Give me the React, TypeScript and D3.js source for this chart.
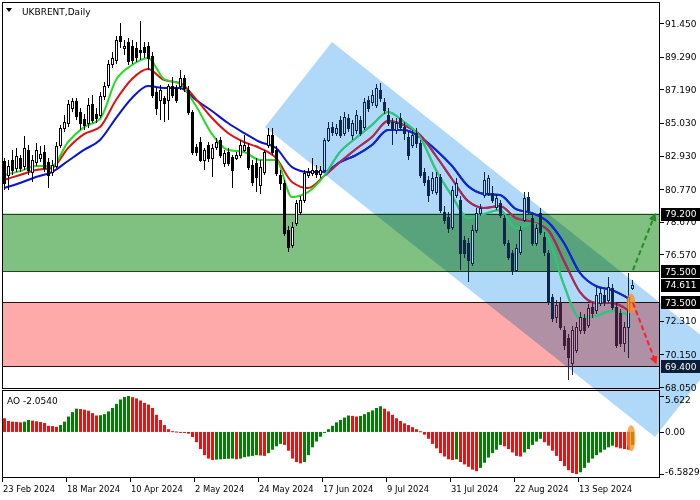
import React from "react";
import * as d3 from "d3";

const symbolTitle = "UKBRENT,Daily";
const aoTitle = "AO -2.0540";

const openP = [
  82.58, 81.68, 82.64, 82.13, 82.77, 82.26, 83.29, 81.87, 82.51, 82.77,
  83.16, 82.51, 81.87, 82.26, 83.61, 84.70, 85.02, 85.99, 86.44, 85.73,
  85.28, 85.02, 86.24, 85.60, 85.54, 86.76, 87.46, 88.81, 89.07, 90.62,
  89.84, 90.23, 89.97, 89.84, 89.72, 89.91, 89.97, 89.33, 87.01, 86.50,
  86.63, 86.50, 87.40, 87.27, 87.40, 87.91, 87.14, 85.73, 83.48, 83.80,
  82.64, 83.61, 82.77, 83.48, 83.93, 82.45, 83.16, 82.84, 82.77, 82.96,
  83.29, 83.48, 82.32, 82.45, 81.03, 81.87, 83.61, 84.25, 83.29, 81.68,
  81.16, 78.14, 77.18, 78.59, 79.30, 80.07, 81.68, 81.81, 82.00, 81.74,
  82.00, 83.93, 84.76, 84.38, 85.21, 84.38, 85.34, 84.25, 84.57, 85.21,
  84.76, 86.50, 86.37, 86.18, 87.14, 86.37, 85.54, 85.09, 84.57, 85.34,
  84.76, 84.12, 83.61, 84.38, 83.74, 81.87, 81.36, 80.71, 80.58, 81.55,
  79.30, 78.98, 78.33, 80.39, 80.07, 77.50, 77.31, 76.02, 78.14, 79.23,
  80.39, 80.52, 80.52, 79.62, 79.88, 78.91, 77.31, 76.66, 75.57, 76.73,
  78.78, 80.26, 78.91, 77.31, 79.23, 77.69, 76.66, 73.83, 72.55, 73.45,
  71.71, 71.20, 69.59, 70.43, 71.71, 72.48, 72.03, 73.19, 73.00, 73.45,
  73.96, 73.64, 74.41, 73.19, 72.80, 70.88, 71.90, 74.41,
];
const highP = [
  82.77, 82.64, 83.29, 83.41, 82.96, 84.18, 83.61, 82.96, 83.74, 83.54,
  83.61, 82.77, 82.64, 83.80, 84.89, 85.54, 86.50, 86.63, 86.63, 85.99,
  85.60, 86.63, 86.82, 85.99, 87.01, 87.66, 89.07, 89.59, 90.62, 91.45,
  90.36, 90.49, 90.36, 90.23, 91.58, 90.23, 90.23, 89.59, 87.27, 87.46,
  86.76, 87.53, 87.98, 87.46, 88.43, 88.11, 87.40, 85.86, 83.67, 84.12,
  83.41, 83.80, 83.67, 84.06, 84.12, 83.29, 83.41, 82.96, 83.16, 83.93,
  84.25, 83.74, 82.64, 82.77, 82.64, 83.29, 84.70, 84.70, 83.54, 82.00,
  81.36, 78.40, 78.66, 80.07, 80.33, 82.00, 82.13, 82.77, 82.32, 82.26,
  84.06, 85.09, 85.09, 84.96, 85.47, 85.73, 85.60, 85.21, 85.86, 85.47,
  86.63, 86.76, 87.14, 87.53, 87.59, 86.63, 85.99, 85.34, 85.34, 85.66,
  85.09, 84.44, 84.57, 84.70, 83.93, 82.13, 81.61, 81.87, 81.87, 81.74,
  79.69, 79.30, 80.97, 81.48, 80.33, 77.76, 77.63, 78.46, 79.56, 79.81,
  81.87, 81.68, 80.97, 80.46, 80.07, 79.11, 77.50, 76.86, 77.24, 78.40,
  80.58, 80.58, 79.17, 78.53, 79.56, 78.01, 76.86, 74.03, 73.64, 73.83,
  71.97, 71.45, 71.97, 72.23, 72.87, 72.74, 73.38, 73.51, 74.48, 74.41,
  74.28, 75.12, 74.67, 73.45, 73.06, 72.23, 75.38, 74.93,
];
const lowP = [
  80.71, 80.71, 81.68, 81.87, 81.87, 82.00, 81.68, 81.23, 82.26, 82.51,
  81.87, 80.84, 81.61, 82.13, 83.41, 84.44, 84.76, 85.73, 85.21, 84.57,
  84.57, 84.70, 85.02, 85.02, 85.34, 86.50, 87.27, 88.56, 88.81, 89.84,
  89.39, 88.75, 88.81, 88.94, 89.07, 89.20, 88.43, 86.63, 85.54, 85.21,
  85.09, 85.21, 86.63, 86.31, 87.14, 87.01, 85.54, 82.96, 82.90, 82.51,
  82.00, 82.51, 81.55, 83.29, 82.77, 82.19, 82.26, 80.84, 82.64, 82.77,
  83.16, 82.00, 80.97, 80.58, 80.46, 81.68, 83.41, 82.96, 81.61, 80.71,
  77.76, 76.73, 76.98, 78.40, 79.11, 79.88, 81.49, 81.61, 81.49, 81.49,
  81.87, 83.80, 84.18, 84.18, 84.06, 84.18, 84.44, 83.93, 84.31, 84.18,
  84.57, 85.73, 86.11, 85.99, 86.37, 85.60, 84.83, 83.61, 84.31, 84.57,
  83.93, 82.64, 83.41, 83.41, 81.49, 80.97, 79.94, 80.46, 80.39, 79.23,
  78.53, 77.95, 78.14, 80.20, 75.57, 76.34, 74.80, 75.83, 77.95, 79.04,
  80.20, 80.33, 79.88, 79.43, 78.91, 77.11, 76.21, 75.25, 75.44, 76.53,
  78.66, 79.17, 77.11, 77.11, 77.82, 76.47, 73.32, 72.23, 72.16, 71.71,
  70.43, 68.50, 68.82, 70.23, 71.45, 71.45, 71.84, 72.48, 72.74, 73.26,
  73.26, 73.45, 73.00, 70.56, 70.62, 70.30, 69.91, 74.28,
];
const closeP = [
  81.16, 82.26, 82.00, 82.90, 82.13, 83.41, 82.00, 82.64, 83.29, 83.03,
  82.13, 81.68, 82.32, 83.54, 84.70, 85.09, 86.24, 86.44, 85.47, 85.02,
  84.89, 86.18, 85.21, 85.34, 86.76, 87.40, 88.81, 89.20, 90.36, 90.29,
  89.97, 89.01, 89.07, 89.27, 89.59, 89.59, 89.20, 86.82, 85.99, 87.14,
  86.31, 87.40, 86.82, 86.50, 87.91, 87.27, 85.73, 83.16, 83.16, 82.64,
  83.29, 82.77, 83.41, 83.80, 82.96, 83.09, 82.45, 82.00, 82.96, 83.61,
  83.61, 82.19, 81.23, 81.55, 82.19, 83.16, 84.25, 83.16, 81.81, 81.16,
  77.95, 77.05, 78.33, 79.88, 80.07, 81.81, 81.87, 82.00, 81.74, 82.00,
  83.93, 84.70, 84.44, 84.70, 84.25, 85.41, 84.70, 85.02, 85.54, 84.38,
  86.37, 85.99, 86.82, 87.27, 86.63, 85.86, 85.02, 84.70, 85.02, 84.76,
  84.38, 82.96, 84.25, 83.74, 81.68, 81.23, 80.39, 81.49, 81.55, 79.43,
  78.78, 78.27, 80.71, 81.16, 76.66, 76.66, 76.21, 78.14, 79.23, 79.56,
  81.36, 81.49, 80.07, 80.20, 79.11, 77.31, 76.40, 75.57, 76.98, 78.14,
  80.20, 79.43, 77.31, 78.27, 78.01, 76.73, 73.51, 72.48, 73.32, 71.90,
  70.75, 70.01, 71.71, 71.90, 72.55, 71.71, 73.13, 72.80, 73.96, 74.09,
  73.51, 74.48, 73.19, 70.75, 70.88, 71.90, 73.83, 74.611,
];

const aoValues = [
  2.14, 1.71, 1.61, 1.58, 1.50, 1.61, 1.87, 1.77, 1.66, 1.55,
  1.39, 0.96, 0.91, 0.80, 1.07, 1.61, 2.41, 3.10, 3.64, 3.58,
  3.48, 3.32, 2.94, 2.57, 2.62, 2.78, 3.21, 3.75, 4.39, 5.08,
  5.46, 5.622, 5.45, 5.24, 4.92, 4.55, 4.28, 3.75, 2.68, 1.87,
  1.07, 0.43, 0.12, 0.06, -0.03, -0.08, -0.27, -0.80, -1.61, -2.68,
  -3.64, -4.17, -4.39, -4.33, -4.28, -4.23, -4.20, -4.17, -4.28, -4.17,
  -3.96, -3.85, -3.75, -3.64, -3.69, -3.75, -3.32, -2.78, -2.25, -1.87,
  -2.03, -2.94, -4.17, -4.71, -4.92, -4.71, -3.64, -2.41, -1.50, -0.75,
  -0.16, 0.43, 0.96, 1.50, 1.87, 2.25, 2.57, 2.51, 2.41, 2.51,
  2.78, 3.10, 3.37, 3.75, 4.01, 3.64, 3.21, 2.68, 2.14, 1.71,
  1.34, 1.07, 0.75, 0.43, 0.11, -0.43, -1.07, -1.87, -2.57, -3.32,
  -3.85, -4.28, -4.39, -4.28, -4.71, -5.08, -5.46, -5.89, -6.15, -5.62,
  -4.82, -4.01, -3.32, -2.78, -2.03, -2.25, -2.68, -3.21, -3.75, -3.85,
  -3.21, -2.68, -2.03, -1.50, -1.07, -1.61, -2.14, -2.94, -3.75, -4.55,
  -5.35, -5.99, -6.42, -6.5829, -6.31, -5.62, -4.82, -4.17, -3.64, -3.21,
  -2.78, -2.41, -2.14, -2.41, -2.57, -2.68, -2.78, -2.054,
];

// Alligator lines read every 4th bar
const maIndex = [
  0, 4, 8, 12, 16, 20, 24, 28, 32, 36, 40, 44, 48, 52, 56, 60, 64, 68, 72, 76,
  80, 84, 88, 92, 96, 100, 104, 108, 112, 116, 120, 124, 128, 132, 136, 140, 144, 148, 152, 156,
];
const jawLine = [
  80.84, 81.16, 81.55, 81.87, 82.58, 83.29, 83.93, 85.34, 86.63, 87.40,
  87.27, 87.27, 86.50, 85.79, 85.02, 84.38, 83.80, 83.41, 82.19, 81.87,
  81.87, 82.51, 82.96, 83.61, 84.57, 84.57, 84.12, 83.29, 82.26, 80.97,
  80.46, 80.39, 79.49, 79.23, 78.66, 77.31, 75.38, 74.54, 74.28, 73.77,
];
const teethLine = [
  81.36, 81.68, 82.00, 82.13, 83.41, 84.31, 84.76, 86.50, 87.85, 88.49,
  87.79, 87.59, 86.56, 85.34, 84.38, 83.80, 83.41, 82.77, 81.23, 80.84,
  81.61, 82.51, 83.35, 84.12, 85.15, 84.89, 84.25, 82.90, 81.42, 80.00,
  79.56, 79.69, 78.91, 78.66, 78.14, 76.15, 74.15, 73.45, 73.45, 73.00,
];
const lipsLine = [
  81.68, 81.93, 82.26, 82.26, 83.80, 84.76, 85.28, 87.79, 88.75, 89.20,
  87.85, 87.53, 86.11, 84.31, 83.29, 83.16, 82.64, 82.64, 80.26, 80.58,
  81.61, 83.16, 84.06, 84.89, 85.73, 85.09, 84.12, 82.00, 80.33, 78.91,
  79.17, 79.43, 78.27, 78.59, 77.63, 74.60, 72.48, 72.61, 72.93, 72.68,
];

const dateLabels = [
  "23 Feb 2024", "18 Mar 2024", "10 Apr 2024", "2 May 2024", "24 May 2024",
  "17 Jun 2024", "9 Jul 2024", "31 Jul 2024", "22 Aug 2024", "13 Sep 2024",
];
const dateIndex = [0, 16, 32, 48, 64, 80, 96, 112, 128, 144];

const priceTicks = [91.45, 89.29, 87.19, 85.03, 82.93, 80.77, 78.67, 76.57, 72.31, 70.15, 68.05];
const levelValues = [79.2, 75.5, 74.611, 73.5, 69.4];
const levelColors = ["#000000", "#000000", "#000000", "#000000", "#0b1d38"];
const greenZone = [75.5, 79.2];
const redZone = [69.4, 73.5];
const aoTicks = [5.622, 0, -6.5829];
const aoTickLabels = ["5.622", "0.00", "-6.5829"];

// price channel corners (bar index, price)
const channelIdx = [82, 65.25, 162.75, 179.5];
const channelPrice = [90.23, 84.77, 64.84, 70.3];
// forecast arrows (bar index, price)
const upArrowIdx = [157.25, 162.5];
const upArrowPrice = [75.57, 79.0];
const downArrowIdx = [157.25, 162.75];
const downArrowPrice = [73.45, 69.75];
const markIdx = 156.75;
const markPrice = 73.41;
const markAO = -1.0;

export default function App() {
  const x = d3.scaleLinear().domain([0, 157]).range([4, 632]);
  const y = d3.scaleLinear().domain([68.05, 91.45]).range([387, 23]);
  const ay = d3.scaleLinear().domain([-6.5829, 5.622]).range([474, 396]);

  const band: [number, number][] = channelIdx.map((c, k) => [x(c), y(channelPrice[k])]);
  const bandPath = "M" + band.map((p) => p.join(",")).join("L") + "Z";

  const lineGen = (vals: number[]) =>
    d3
      .line<number>()
      .x((_, k) => x(maIndex[k]))
      .y((d) => y(d))
      .curve(d3.curveMonotoneX)(vals) || "";

  const font = "DejaVu Sans, Verdana, sans-serif";
  const L = 2, R = 660;

  return (
    <div style={{ position: "fixed", left: 0, top: 0 }}>
      <svg width={700} height={500} style={{ display: "block" }}>
        <defs>
          <clipPath id="bandClip">
            <path d={bandPath} />
          </clipPath>
          <marker id="arrG" viewBox="0 0 10 10" refX="5" refY="5" markerWidth="4" markerHeight="4" orient="auto">
            <path d="M0,0 L10,5 L0,10 z" fill="#2a8a2a" />
          </marker>
          <marker id="arrR" viewBox="0 0 10 10" refX="5" refY="5" markerWidth="4" markerHeight="4" orient="auto">
            <path d="M0,0 L10,5 L0,10 z" fill="#ff2020" />
          </marker>
        </defs>
        <rect x={0} y={0} width={700} height={500} fill="#ffffff" />

        {/* zones */}
        <rect x={L} y={y(greenZone[1])} width={R - L} height={y(greenZone[0]) - y(greenZone[1])} fill="#80c080" />
        <rect x={L} y={y(redZone[1])} width={R - L} height={y(redZone[0]) - y(redZone[1])} fill="#ffaaaa" />
        {[greenZone[0], greenZone[1]].map((v, k) => (
          <line key={"gz" + k} x1={L} x2={R} y1={Math.round(y(v)) + 0.5} y2={Math.round(y(v)) + 0.5} stroke="#1c4a1c" strokeWidth={1} />
        ))}
        {[redZone[0], redZone[1]].map((v, k) => (
          <line key={"rz" + k} x1={L} x2={R} y1={Math.round(y(v)) + 0.5} y2={Math.round(y(v)) + 0.5} stroke="#2a1010" strokeWidth={1} />
        ))}

        {/* channel */}
        <path d={bandPath} fill="#b0d8f8" style={{ mixBlendMode: "multiply" }} />

        {/* alligator lines */}
        <g fill="none" strokeWidth={2}>
          <path d={lineGen(jawLine)} stroke="#0a14d0" />
          <path d={lineGen(teethLine)} stroke="#e01010" />
          <path d={lineGen(lipsLine)} stroke="#22dd22" />
        </g>
        <g fill="none" strokeWidth={2} clipPath="url(#bandClip)">
          <path d={lineGen(jawLine)} stroke="#0a2ad0" />
          <path d={lineGen(teethLine)} stroke="#9c2f64" />
          <path d={lineGen(lipsLine)} stroke="#2cc488" />
        </g>

        {/* candles */}
        <g>
          {closeP.map((c, i) => {
            const cx = Math.round(x(i));
            const yo = y(openP[i]);
            const yc = y(c);
            const bull = c >= openP[i];
            const mid = (yo + yc) / 2;
            const inBand = d3.polygonContains(band, [cx, mid]);
            const inRed = c < redZone[1] && openP[i] < redZone[1] + 0.3;
            const dark = inBand ? (inRed ? "#3e1c3a" : "#0e2648") : "#000000";
            const light = inBand ? (inRed ? "#c9a6bf" : "#b0d8f8") : "#ffffff";
            const top = Math.round(Math.min(yo, yc));
            const h = Math.max(1, Math.round(Math.max(yo, yc)) - top);
            return (
              <g key={"c" + i}>
                <line x1={cx + 0.5} x2={cx + 0.5} y1={Math.round(y(highP[i]))} y2={Math.round(y(lowP[i]))} stroke={dark} strokeWidth={1} />
                <rect x={cx - 0.5} y={top + 0.5} width={2} height={h} fill={bull ? light : dark} stroke={dark} strokeWidth={1} />
              </g>
            );
          })}
        </g>

        {/* AO histogram */}
        <g>
          {aoValues.map((v, i) => {
            const up = i > 0 && v > aoValues[i - 1];
            const y0 = ay(Math.max(v, 0));
            const y1 = ay(Math.min(v, 0));
            return (
              <rect key={"ao" + i} x={Math.round(x(i)) - 1} y={y0} width={3} height={Math.max(1, y1 - y0)} fill={up ? "#008000" : "#ee1111"} />
            );
          })}
        </g>

        {/* highlights */}
        <ellipse cx={x(markIdx)} cy={y(markPrice)} rx={4.5} ry={10} fill="#ff8c1a" opacity={0.75} />
        <ellipse cx={x(markIdx)} cy={ay(markAO)} rx={4.5} ry={13} fill="#ff8c1a" opacity={0.75} />

        {/* arrows */}
        <line x1={x(upArrowIdx[0])} y1={y(upArrowPrice[0])} x2={x(upArrowIdx[1])} y2={y(upArrowPrice[1])} stroke="#2a8a2a" strokeWidth={2} strokeDasharray="5,3" markerEnd="url(#arrG)" />
        <line x1={x(downArrowIdx[0])} y1={y(downArrowPrice[0])} x2={x(downArrowIdx[1])} y2={y(downArrowPrice[1])} stroke="#ff2020" strokeWidth={2} strokeDasharray="5,3" markerEnd="url(#arrR)" />

        {/* frames */}
        <rect x={2.5} y={2.5} width={657} height={386} fill="none" stroke="#000" strokeWidth={1} />
        <rect x={2.5} y={390.5} width={657} height={87} fill="none" stroke="#000" strokeWidth={1} />

        {/* title */}
        <polygon points="6,8 12,8 9,12" fill="#000" />
        <text x={22} y={15} fontFamily={font} fontSize={9} fill="#000">{symbolTitle}</text>
        <text x={7} y={404} fontFamily={font} fontSize={9} fill="#000">{aoTitle}</text>

        {/* price axis */}
        {priceTicks.map((v) => (
          <g key={"pt" + v}>
            <line x1={660} x2={664} y1={Math.round(y(v)) + 0.5} y2={Math.round(y(v)) + 0.5} stroke="#000" />
            <text x={665} y={y(v) + 3.5} fontFamily={font} fontSize={9} fill="#000">{d3.format(".3f")(v)}</text>
          </g>
        ))}
        {levelValues.map((v, k) => (
          <g key={"lv" + v}>
            <rect x={661} y={Math.round(y(v)) - 6} width={39} height={13} fill={levelColors[k]} />
            <text x={665} y={y(v) + 3.5} fontFamily={font} fontSize={9} fill="#fff">{d3.format(".3f")(v)}</text>
          </g>
        ))}

        {/* AO axis */}
        {aoTicks.map((v, k) => (
          <g key={"at" + k}>
            <line x1={660} x2={664} y1={Math.round(ay(v)) + 0.5} y2={Math.round(ay(v)) + 0.5} stroke="#000" />
            <text x={665} y={Math.min(471, Math.max(399, ay(v))) + 3.5} fontFamily={font} fontSize={9} fill="#000">{aoTickLabels[k]}</text>
          </g>
        ))}

        {/* date axis */}
        {dateIndex.map((di, k) => (
          <g key={"d" + k}>
            <line x1={Math.round(x(di)) - 1.5} x2={Math.round(x(di)) - 1.5} y1={478} y2={482} stroke="#000" />
            <text x={Math.round(x(di)) - 1} y={492} fontFamily={font} fontSize={8.4} fill="#000">{dateLabels[k]}</text>
          </g>
        ))}
      </svg>
    </div>
  );
}
